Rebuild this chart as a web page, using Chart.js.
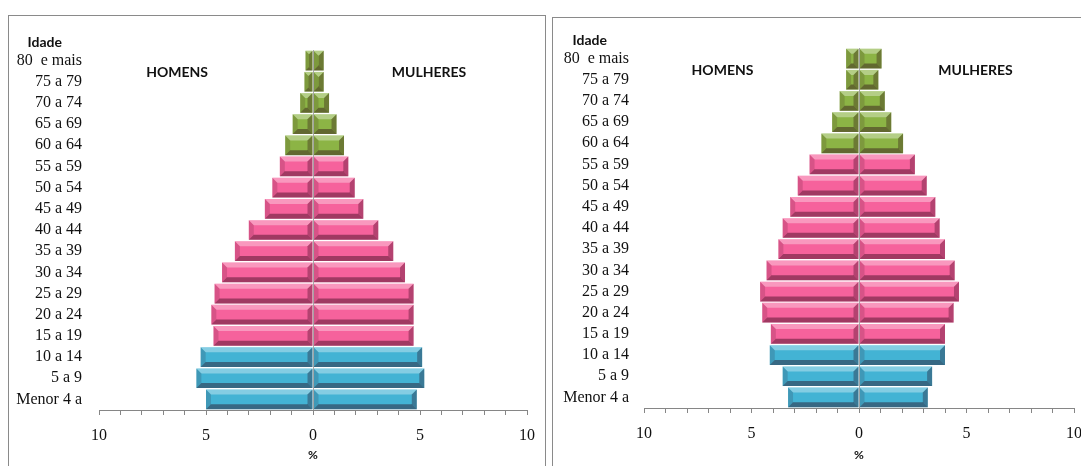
<!DOCTYPE html>
<html>
<head>
<meta charset="utf-8">
<title>Pirâmides etárias</title>
<script src="https://cdn.jsdelivr.net/npm/chart.js@4.4.0/dist/chart.umd.min.js"></script>
<style>
body{margin:0;background:#fff;overflow:hidden;width:1081px;height:466px;position:relative}
.painel{position:absolute;border:1px solid #8a8a8a;border-bottom:none;background:#fff}
#p1{left:8px;top:15px;width:536px;height:470px}
#p2{left:552px;top:17px;width:600px;height:470px}
canvas{position:absolute;left:0;top:0}
</style>
</head>
<body>
<div class="painel" id="p1"><canvas id="piramide1" width="535" height="450"></canvas></div>
<div class="painel" id="p2"><canvas id="piramide2" width="535" height="448"></canvas></div>
<script>
// faixas etarias, de cima para baixo
var idades = ['80  e mais','75 a 79','70 a 74','65 a 69','60 a 64','55 a 59','50 a 54','45 a 49',
  '40 a 44','35 a 39','30 a 34','25 a 29','20 a 24','15 a 19','10 a 14','5 a 9','Menor 4 a'];

// % da populacao - primeira piramide
var homens1   = [0.35,0.4,0.6,0.95,1.3,1.55,1.9,2.25,3.0,3.65,4.25,4.6,4.75,4.65,5.25,5.45,5.0];
var mulheres1 = [0.5,0.5,0.75,1.1,1.45,1.65,1.95,2.35,3.05,3.75,4.3,4.7,4.7,4.7,5.1,5.2,4.85];

// % da populacao - segunda piramide
var homens2   = [0.6,0.6,0.9,1.25,1.75,2.3,2.85,3.2,3.55,3.75,4.3,4.6,4.5,4.1,4.15,3.55,3.3];
var mulheres2 = [1.05,0.9,1.2,1.5,2.05,2.6,3.15,3.55,3.75,4.0,4.45,4.65,4.4,4.0,4.0,3.4,3.2];

var eixoX = [-10, 10];

// idosos verde, adultos rosa, criancas azul
function corFaixa(i) {
  if (i < 5) return '#8cb445';
  if (i < 14) return '#f6629c';
  return '#43b3d4';
}
var cores = idades.map(function (f, i) { return corFaixa(i); });

function faceta(c, pts, cor) {
  c.beginPath();
  c.moveTo(pts[0][0], pts[0][1]);
  for (var k = 1; k < pts.length; k++) c.lineTo(pts[k][0], pts[k][1]);
  c.closePath();
  c.fillStyle = cor;
  c.fill();
}

// efeito de relevo nas barras + linha do zero
var relevo = {
  id: 'relevo',
  afterDatasetsDraw: function (chart) {
    var c = chart.ctx;
    c.save();
    chart.data.datasets.forEach(function (ds, i) {
      chart.getDatasetMeta(i).data.forEach(function (bar) {
        var p = bar.getProps(['x', 'y', 'base', 'height'], true);
        var l = Math.min(p.x, p.base), r = Math.max(p.x, p.base);
        var t = p.y - p.height / 2, b = p.y + p.height / 2;
        var e = Math.min(5, (r - l) / 2, p.height / 2);
        faceta(c, [[l, t], [r, t], [r - e, t + e], [l + e, t + e]], 'rgba(255,255,255,0.35)');
        faceta(c, [[l, b], [r, b], [r - e, b - e], [l + e, b - e]], 'rgba(40,0,20,0.42)');
        faceta(c, [[l, t], [l + e, t + e], [l + e, b - e], [l, b]], 'rgba(40,0,20,0.15)');
        faceta(c, [[r, t], [r - e, t + e], [r - e, b - e], [r, b]], 'rgba(40,0,20,0.32)');
      });
    });
    var x0 = Math.round(chart.scales.x.getPixelForValue(0)) + 0.5;
    c.strokeStyle = 'rgba(160,160,160,0.9)';
    c.lineWidth = 1;
    c.beginPath();
    c.moveTo(x0, chart.chartArea.top);
    c.lineTo(x0, chart.chartArea.bottom);
    c.stroke();
    c.restore();
  }
};

// textos soltos: Idade, HOMENS, MULHERES
var rotulos = {
  id: 'rotulos',
  afterDraw: function (chart) {
    var c = chart.ctx, sx = chart.scales.x, sy = chart.scales.y;
    c.save();
    c.fillStyle = '#111';
    c.font = 'bold 14px Lato';
    c.textBaseline = 'middle';
    c.textAlign = 'right';
    c.fillText('Idade', chart.chartArea.left - 37, sy.getPixelForValue(0) - 18);
    c.textAlign = 'center';
    var yy = sy.getPixelForValue(0.54);
    c.fillText('HOMENS', sx.getPixelForValue(-6.35), yy);
    c.fillText('MULHERES', sx.getPixelForValue(5.42), yy);
    c.restore();
  }
};

function piramide(id, homens, mulheres, area) {
  var ctx = document.getElementById(id).getContext('2d');
  return new Chart(ctx, {
    type: 'bar',
    data: {
      labels: idades,
      datasets: [{
        label: 'Homens',
        data: homens.map(function (v) { return -v; }),
        backgroundColor: cores,
        borderWidth: 0,
        barPercentage: 0.93,
        categoryPercentage: 1
      }, {
        label: 'Mulheres',
        data: mulheres,
        backgroundColor: cores,
        borderWidth: 0,
        barPercentage: 0.93,
        categoryPercentage: 1
      }]
    },
    options: {
      indexAxis: 'y',
      responsive: false,
      animation: false,
      layout: { padding: { top: area.top, right: area.right, left: 0, bottom: 0 } },
      scales: {
        x: {
          stacked: true,
          min: eixoX[0],
          max: eixoX[1],
          afterFit: function (s) {
            s.height = area.xh;
            s.paddingLeft = 0;
            s.paddingRight = 0;
          },
          ticks: {
            stepSize: 1,
            autoSkip: false,
            maxRotation: 0,
            padding: 11,
            color: '#111',
            font: { family: 'Liberation Serif', size: 16 },
            callback: function (v) { return v % 5 === 0 ? Math.abs(v) : ''; }
          },
          grid: { drawOnChartArea: false, drawTicks: true, tickLength: 5, color: '#868686' },
          border: { display: true, color: '#868686' },
          title: {
            display: true,
            text: '%',
            color: '#111',
            font: { family: 'Lato', size: 12, weight: 'bold' },
            padding: { top: 0, bottom: 4 }
          }
        },
        y: {
          stacked: true,
          afterFit: function (s) { s.width = area.yw; },
          ticks: {
            autoSkip: false,
            padding: area.pad,
            color: '#111',
            font: { family: 'Liberation Serif', size: 16 }
          },
          grid: { display: false, drawTicks: false },
          border: { display: false }
        }
      },
      plugins: {
        legend: { display: false },
        tooltip: { enabled: false }
      }
    },
    plugins: [relevo, rotulos]
  });
}

piramide('piramide1', homens1, mulheres1, { top: 34, right: 17, xh: 56, yw: 90, pad: 17 });
piramide('piramide2', homens2, mulheres2, { top: 30, right: 14, xh: 58, yw: 91, pad: 15 });
</script>
</body>
</html>
